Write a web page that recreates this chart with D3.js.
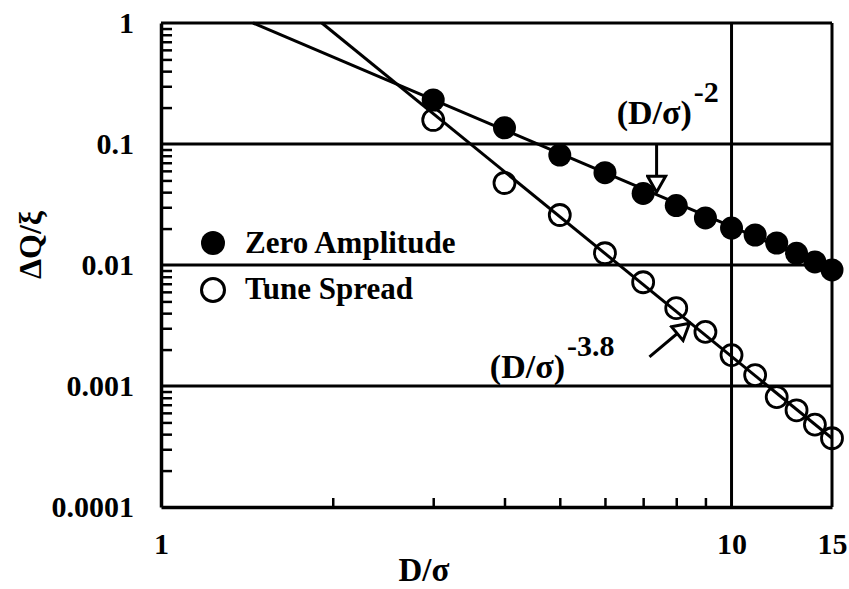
<!DOCTYPE html>
<html>
<head>
<meta charset="utf-8">
<script src="https://cdn.jsdelivr.net/npm/d3@7"></script>
<style>
  body { margin: 0; background: #fff; }
  svg { display: block; }
  text { font-family: "Liberation Serif", "Times New Roman", serif; font-weight: bold; fill: #000; }
</style>
</head>
<body>
<div id="wrapper"></div>
<script>
// data
const dOverSigma = [3, 4, 5, 6, 7, 8, 9, 10, 11, 12, 13, 14, 15]
const zeroAmplitude = [0.231, 0.136, 0.081, 0.058, 0.039, 0.031, 0.0245, 0.0202, 0.0177, 0.0152, 0.0125, 0.0106, 0.0091]
const tuneSpread = [0.158, 0.0476, 0.0259, 0.0125, 0.0072, 0.0044, 0.0028, 0.0018, 0.00123, 0.00081, 0.00063, 0.00048, 0.00037]

// fitted power laws (end points of the straight lines in log-log)
const fitMinus2 = [[1.45, 1], [15, 0.0092]]
const fitMinus38 = [[1.914, 1], [15, 0.00037]]

const yMajor = [1, 0.1, 0.01, 0.001, 0.0001]
const yLabels = ["1", "0.1", "0.01", "0.001", "0.0001"]
const xMajor = [1, 10, 15]
const xLabels = ["1", "10", "15"]

async function drawChart() {
  let dimensions = {
    width: 849,
    height: 589,
    margin: { top: 23, right: 17, bottom: 82, left: 161 },
  }
  dimensions.boundedWidth = dimensions.width - dimensions.margin.left - dimensions.margin.right
  dimensions.boundedHeight = dimensions.height - dimensions.margin.top - dimensions.margin.bottom

  const wrapper = d3.select("#wrapper")
    .append("svg")
      .attr("width", dimensions.width)
      .attr("height", dimensions.height)

  const bounds = wrapper.append("g")
      .attr("transform", `translate(${dimensions.margin.left},${dimensions.margin.top})`)

  // scales
  const xScale = d3.scaleLog()
      .domain([1, 15])
      .range([0, dimensions.boundedWidth])

  const yScale = d3.scaleLog()
      .domain([0.0001, 1])
      .range([dimensions.boundedHeight, 0])

  // minor ticks (inside)
  const yMinor = []
  yMajor.slice(1).forEach(p => { for (let k = 2; k <= 9; k++) yMinor.push(p * k) })
  const xMinor = [2, 3, 4, 5, 6, 7, 8, 9]

  const yMinorAxis = bounds.append("g")
      .call(d3.axisLeft(yScale).tickValues(yMinor).tickSize(-11).tickFormat(""))
  yMinorAxis.select(".domain").remove()
  yMinorAxis.selectAll("line").attr("stroke-width", 2.5)

  const xMinorAxis = bounds.append("g")
      .attr("transform", `translate(0,${dimensions.boundedHeight})`)
      .call(d3.axisBottom(xScale).tickValues(xMinor).tickSize(-9).tickFormat(""))
  xMinorAxis.select(".domain").remove()
  xMinorAxis.selectAll("line").attr("stroke-width", 2.5)

  // grid
  bounds.append("g").selectAll("line")
    .data(yMajor.slice(0, 4))
    .join("line")
      .attr("x1", 0)
      .attr("x2", dimensions.boundedWidth)
      .attr("y1", d => yScale(d))
      .attr("y2", d => yScale(d))
      .attr("stroke", "#000")
      .attr("stroke-width", 3)

  bounds.append("g").selectAll("line")
    .data([10, 15])
    .join("line")
      .attr("x1", d => xScale(d))
      .attr("x2", d => xScale(d))
      .attr("y1", 0)
      .attr("y2", dimensions.boundedHeight)
      .attr("stroke", "#000")
      .attr("stroke-width", 3)

  // axes with labels
  const yAxis = bounds.append("g")
      .call(d3.axisLeft(yScale).tickValues(yMajor).tickSize(0).tickPadding(27)
        .tickFormat((d, i) => yLabels[i]))
  yAxis.select(".domain").attr("stroke-width", 3.5)
  yAxis.selectAll("text")
      .attr("dy", "0.3em")
      .style("font-size", "30px")

  const xAxis = bounds.append("g")
      .attr("transform", `translate(0,${dimensions.boundedHeight})`)
      .call(d3.axisBottom(xScale).tickValues(xMajor).tickSize(0).tickPadding(0)
        .tickFormat((d, i) => xLabels[i]))
  xAxis.select(".domain").attr("stroke-width", 3.5)
  xAxis.selectAll("text")
      .attr("y", 47)
      .attr("dy", 0)
      .style("font-size", "30px")
  bounds.selectAll(".tick text")
      .attr("fill", "#000")
      .style("font-family", "Liberation Serif")
      .style("font-weight", "bold")

  // axis titles
  wrapper.append("text")
      .attr("x", 424)
      .attr("y", 581)
      .attr("text-anchor", "middle")
      .style("font-size", "33px")
      .text("D/σ")

  wrapper.append("text")
      .attr("transform", "translate(41,245) rotate(-90)")
      .attr("text-anchor", "middle")
      .style("font-size", "32px")
      .text("ΔQ/ξ")

  // fit lines
  const lineGen = d3.line()
      .x(d => xScale(d[0]))
      .y(d => yScale(d[1]))

  bounds.append("path")
      .attr("d", lineGen(fitMinus2))
      .attr("fill", "none")
      .attr("stroke", "#000")
      .attr("stroke-width", 3)

  bounds.append("path")
      .attr("d", lineGen(fitMinus38))
      .attr("fill", "none")
      .attr("stroke", "#000")
      .attr("stroke-width", 3)

  // points
  bounds.append("g").selectAll("circle")
    .data(dOverSigma)
    .join("circle")
      .attr("cx", d => xScale(d))
      .attr("cy", (d, i) => yScale(tuneSpread[i]))
      .attr("r", 10.5)
      .attr("fill", "none")
      .attr("stroke", "#000")
      .attr("stroke-width", 2.8)

  bounds.append("g").selectAll("circle")
    .data(dOverSigma)
    .join("circle")
      .attr("cx", d => xScale(d))
      .attr("cy", (d, i) => yScale(zeroAmplitude[i]))
      .attr("r", 11.5)
      .attr("fill", "#000")

  // annotations
  const defs = wrapper.append("defs")
  defs.append("marker")
      .attr("id", "hollowHead")
      .attr("viewBox", "0 0 20 22")
      .attr("refX", 18)
      .attr("refY", 11)
      .attr("markerWidth", 20)
      .attr("markerHeight", 22)
      .attr("markerUnits", "userSpaceOnUse")
      .attr("orient", "auto")
    .append("path")
      .attr("d", "M2,2 L18,11 L2,20 Z")
      .attr("fill", "#fff")
      .attr("stroke", "#000")
      .attr("stroke-width", 3)
      .attr("stroke-linejoin", "miter")

  const arrows = [
    { from: [7.39, 0.1], to: [7.39, 0.040] },
    { from: [7.18, 0.00174], to: [8.44, 0.0033] },
  ]
  bounds.append("g").selectAll("path")
    .data(arrows)
    .join("path")
      .attr("d", d => lineGen([d.from, d.to]))
      .attr("stroke", "#000")
      .attr("stroke-width", 3)
      .attr("marker-end", "url(#hollowHead)")

  const notes = [
    { x: 6.29, y: 0.146, base: "(D/σ)", sup: "-2" },
    { x: 3.77, y: 0.00116, base: "(D/σ)", sup: "-3.8" },
  ]
  const noteText = bounds.append("g").selectAll("text")
    .data(notes)
    .join("text")
      .attr("x", d => xScale(d.x))
      .attr("y", d => yScale(d.y))
      .style("font-size", "34px")
  noteText.append("tspan").text(d => d.base)
  noteText.append("tspan")
      .attr("dx", 2)
      .attr("dy", -22)
      .style("font-size", "30px")
      .text(d => d.sup)

  // legend
  const legend = wrapper.append("g")
  legend.append("circle")
      .attr("cx", 213).attr("cy", 243).attr("r", 12)
      .attr("fill", "#000")
  legend.append("circle")
      .attr("cx", 213).attr("cy", 290).attr("r", 11.5)
      .attr("fill", "none").attr("stroke", "#000").attr("stroke-width", 3)
  legend.append("text")
      .attr("x", 245).attr("y", 253)
      .style("font-size", "31px")
      .text("Zero Amplitude")
  legend.append("text")
      .attr("x", 245).attr("y", 299)
      .style("font-size", "31px")
      .text("Tune Spread")
}
drawChart()
</script>
</body>
</html>
